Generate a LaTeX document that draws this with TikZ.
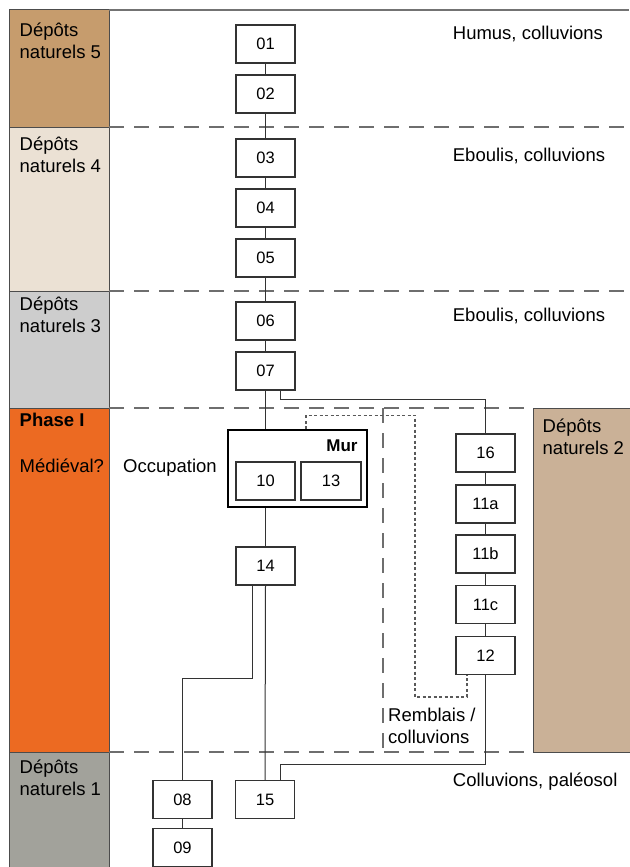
\documentclass[tikz,border=0pt]{standalone}
\usepackage{fontspec}
\setmainfont{Liberation Sans}
\definecolor{dnfive}{HTML}{C69C6D}
\definecolor{dnfour}{HTML}{EBE1D4}
\definecolor{dnthree}{HTML}{CDCDCD}
\definecolor{phaseor}{HTML}{EC6A22}
\definecolor{dnone}{HTML}{A2A29B}
\definecolor{dntwo}{HTML}{CAB197}
\definecolor{lineg}{HTML}{333333}
\definecolor{dashg}{HTML}{6E6E6E}
\tikzset{
  usbox/.style={draw=lineg, line width=1.1pt, fill=white, minimum width=59pt, minimum height=38pt, inner sep=0pt, font=\fontsize{16.5}{19}\selectfont},
  band/.style={draw=black!70, line width=1pt},
  sidelabel/.style={anchor=base west, inner sep=0pt, align=left, font=\fontsize{18.5}{22}\selectfont},
  conn/.style={draw=lineg, line width=1pt},
  divider/.style={draw=dashg, line width=1.3pt, dash pattern=on 15pt off 10pt},
  dottedline/.style={draw=black!65, line width=1.2pt, dash pattern=on 3pt off 2.5pt},
}
\begin{document}
\begin{tikzpicture}[x=1pt,y=-1pt]
\useasboundingbox (0,0) rectangle (629,867);
\fill[white] (0,0) rectangle (629,867);
% left column bands
\draw[band, fill=dnfive] (9,10) rectangle (109,127);
\draw[band, fill=dnfour] (9,127) rectangle (109,291);
\draw[band, fill=dnthree] (9,291) rectangle (109,408);
\draw[band, fill=phaseor] (9,408) rectangle (109,752);
\draw[band, fill=dnone] (9,752) rectangle (109,868);
% right band
\draw[band, fill=dntwo] (533,408) rectangle (630,752);
% top line
\draw[draw=black!55, line width=1.3pt] (109,10) -- (629,10);
% dashed dividers
\draw[divider] (109,127) -- (629,127);
\draw[divider] (109,291) -- (629,291);
\draw[divider] (109,408) -- (533,408);
\draw[divider] (109,752) -- (533,752);
\draw[divider] (383,408) -- (383,752);
% side labels (base anchor = baseline of last line)
\node[sidelabel] (l5) at (19.5,58.5) {Dépôts\\naturels 5};
\node[sidelabel] (l4) at (19.5,172.5) {Dépôts\\naturels 4};
\node[sidelabel] (l3) at (19.5,332.5) {Dépôts\\naturels 3};
\node[sidelabel] (lph) at (19.5,426.5) {\bfseries Phase I};
\node[sidelabel] (lmed) at (19.5,472.5) {Médiéval?};
\node[sidelabel] (l1) at (19.5,795) {Dépôts\\naturels 1};
\node[sidelabel] (l2) at (542.5,454.5) {Dépôts\\naturels 2};
\node[sidelabel] (occ) at (123,472.5) {Occupation};
\node[sidelabel] (remb) at (388,743) {Remblais /\\colluvions};
\node[sidelabel] (hum) at (452.7,40) {Humus, colluvions};
\node[sidelabel] (ebo1) at (452.7,161.5) {Eboulis, colluvions};
\node[sidelabel] (ebo2) at (452.7,321.5) {Eboulis, colluvions};
\node[sidelabel] (colp) at (452.7,786) {Colluvions, paléosol};
% boxes
\node[usbox] (b01) at (265.5,44) {01};
\node[usbox] (b02) at (265.5,94) {02};
\node[usbox] (b03) at (265.5,158) {03};
\node[usbox] (b04) at (265.5,208) {04};
\node[usbox] (b05) at (265.5,258) {05};
\node[usbox] (b06) at (265.5,321) {06};
\node[usbox] (b07) at (265.5,371) {07};
\node[draw=black, line width=1.8pt, fill=white, minimum width=139pt, minimum height=77pt, inner sep=0pt] (mur) at (297.5,468.5) {};
\node[anchor=base east, inner sep=0pt, font=\fontsize{17}{20}\selectfont\bfseries] (murlabel) at (357.7,451.7) {Mur};
\node[usbox] (b10) at (265.5,481) {10};
\node[usbox, minimum width=60pt] (b13) at (331,481) {13};
\node[usbox] (b14) at (265.5,566) {14};
\node[usbox] (b16) at (485.5,453) {16};
\node[usbox] (b11a) at (485.5,504) {11a};
\node[usbox] (b11b) at (485.5,554) {11b};
\node[usbox] (b11c) at (485.5,604.5) {11c};
\node[usbox] (b12) at (485.5,655.5) {12};
\node[usbox] (b08) at (182.5,799.5) {08};
\node[usbox] (b09) at (182.5,847.5) {09};
\node[usbox] (b15) at (265,799.5) {15};
% connectors
\draw[conn] (b01) -- (b02);
\draw[conn] (b02) -- (b03);
\draw[conn] (b03) -- (b04);
\draw[conn] (b04) -- (b05);
\draw[conn] (b05) -- (b06);
\draw[conn] (b06) -- (b07);
\draw[conn] (b07.south) -- (b07.south |- mur.north);
\draw[conn] (mur.south -| b14.north) -- (b14.north);
\draw[conn] ([xshift=15pt]b07.south) -- ++(0,9) -| (b16.north);
\draw[conn] (b16) -- (b11a);
\draw[conn] (b11a) -- (b11b);
\draw[conn] (b11b) -- (b11c);
\draw[conn] (b11c) -- (b12);
\draw[conn] (b12.south) -- ++(0,89) -| ([xshift=15pt]b15.north);
\draw[conn] (b14.south) -- (b15.north);
\draw[conn] ([xshift=-13pt]b14.south) -- ++(0,92.7) -| (b08.north);
\draw[conn] (b08) -- (b09);
\coordinate (dotturn) at (415,697);
\draw[dottedline] ([xshift=8.5pt]mur.north) -- ++(0,-14) -| (dotturn) -| ([xshift=-18.5pt]b12.south);
\end{tikzpicture}
\end{document}
